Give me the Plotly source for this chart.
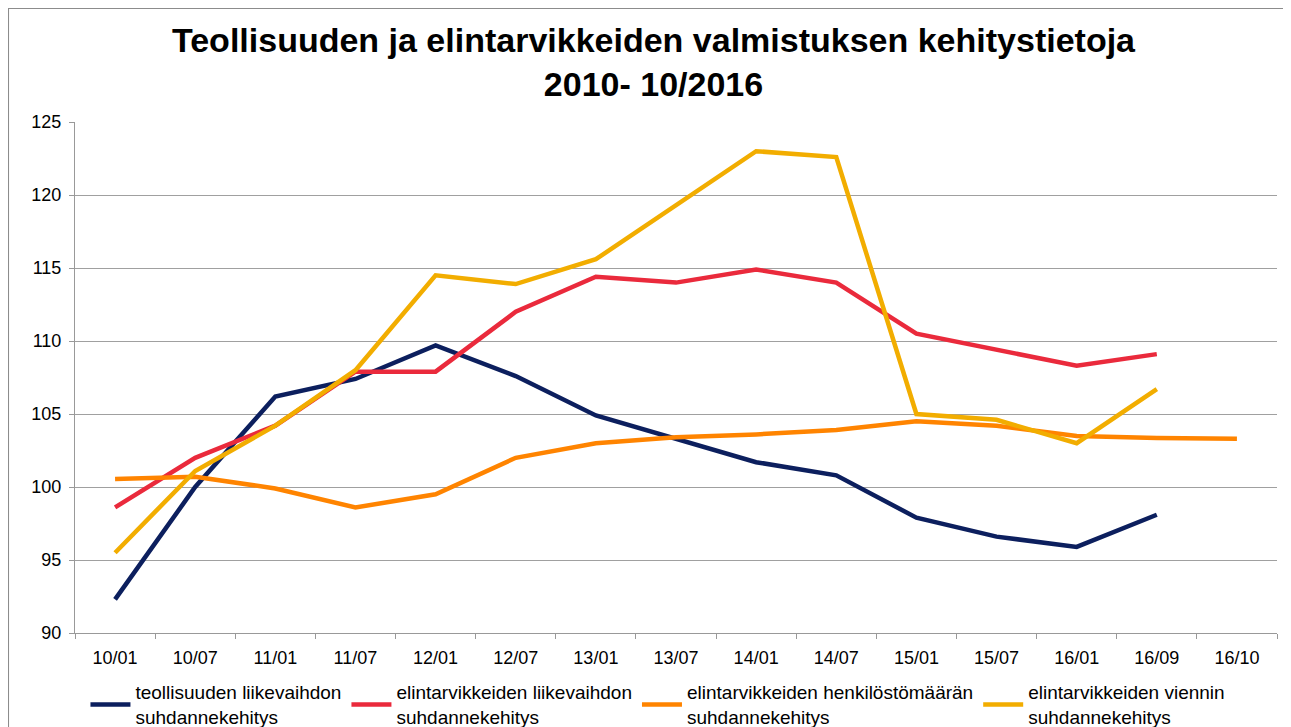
import plotly.graph_objects as go

categories = ["10/01", "10/07", "11/01", "11/07", "12/01", "12/07", "13/01", "13/07",
              "14/01", "14/07", "15/01", "15/07", "16/01", "16/09", "16/10"]

teollisuus_liikevaihto = [92.3, 100.0, 106.2, 107.4, 109.7, 107.6, 104.9, 103.3,
                          101.7, 100.8, 97.9, 96.6, 95.9, 98.1, None]
elintarvike_liikevaihto = [98.6, 102.0, 104.2, 107.9, 107.9, 112.0, 114.4, 114.0,
                           114.9, 114.0, 110.5, 109.4, 108.3, 109.1, None]
elintarvike_henkilosto = [100.55, 100.7, 99.9, 98.6, 99.5, 102.0, 103.0, 103.4,
                          103.6, 103.9, 104.5, 104.2, 103.5, 103.35, 103.3]
elintarvike_vienti = [95.5, 101.1, 104.2, 108.0, 114.5, 113.9, 115.6, 119.3,
                      123.0, 122.6, 105.0, 104.6, 103.0, 106.7, None]

series = [
    ("teollisuuden liikevaihdon<br>suhdannekehitys", teollisuus_liikevaihto, "#0c1f5e"),
    ("elintarvikkeiden liikevaihdon<br>suhdannekehitys", elintarvike_liikevaihto, "#ea2a3c"),
    ("elintarvikkeiden henkilöstömäärän<br>suhdannekehitys", elintarvike_henkilosto, "#ff8400"),
    ("elintarvikkeiden viennin<br>suhdannekehitys", elintarvike_vienti, "#f2ad00"),
]

fig = go.Figure()
for name, vals, col in series:
    fig.add_trace(go.Scatter(x=categories, y=vals, name=name, mode="lines",
                             line=dict(color=col, width=4.5), connectgaps=False))

fig.update_layout(
    width=1291, height=727,
    paper_bgcolor="white", plot_bgcolor="white",
    margin=dict(l=67, r=22, t=114, b=102, autoexpand=False),
    font=dict(family="Liberation Sans, Arial, sans-serif", color="#000000"),
    title=dict(
        text="<b>Teollisuuden ja elintarvikkeiden valmistuksen kehitystietoja<br>2010- 10/2016</b>",
        x=0.5, xanchor="center", xref="container", y=0.94, yanchor="middle", yref="container",
        font=dict(family="Liberation Sans, Arial", size=34, color="#000000"),
    ),
    legend=dict(
        orientation="h", x=0.06, xanchor="left", xref="container",
        y=0.085, yanchor="top", yref="container",
        font=dict(size=19, color="#000000"),
        itemwidth=40, tracegroupgap=0, bgcolor="rgba(0,0,0,0)",
    ),
    showlegend=True,
)
fig.update_xaxes(
    type="category", showgrid=False, showline=True, linecolor="#999999", linewidth=1,
    ticks="outside", tickson="boundaries", ticklen=5, tickcolor="#999999",
    tickfont=dict(size=18, color="#000000"), range=[-0.5, 14.5], automargin=False,
    ticklabelstandoff=8,
)
fig.update_yaxes(
    range=[90, 125], dtick=5, showgrid=True, gridcolor="#a0a0a0", gridwidth=1,
    showline=True, linecolor="#999999", linewidth=1,
    ticks="outside", ticklen=5, tickcolor="#999999",
    tickfont=dict(size=18, color="#000000"), zeroline=False, automargin=False,
    ticklabelstandoff=4,
)
fig.add_shape(type="rect", xref="paper", yref="paper",
              x0=-0.0557, x1=1.0067, y0=-0.3, y1=1.223,
              line=dict(color="#8c8c8c", width=2), fillcolor="rgba(0,0,0,0)", layer="below")

fig.write_html("out.html")
